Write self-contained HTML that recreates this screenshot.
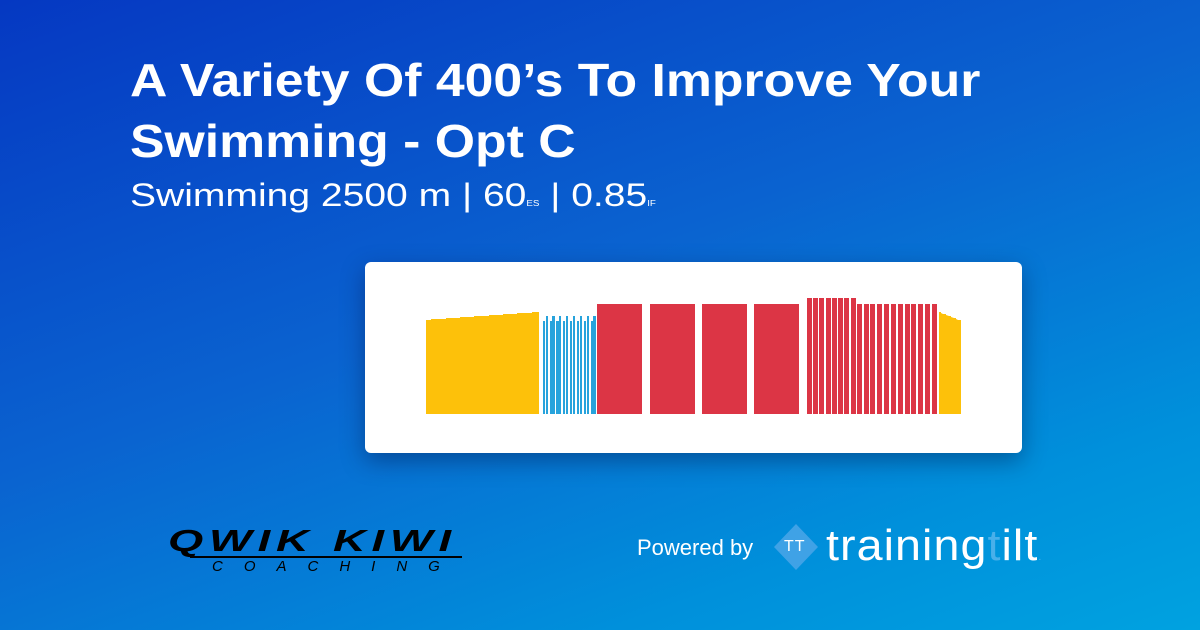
<!DOCTYPE html>
<html><head><style>
*{margin:0;padding:0}
body{width:1200px;height:630px;overflow:hidden;position:relative;font-family:"Liberation Sans",sans-serif;background:linear-gradient(160deg,#0538c2 0%,#0a63d0 45%,#0090db 80%,#00a2e0 100%);}
.t{position:absolute;left:130px;color:#fff;transform-origin:left top;white-space:nowrap}
</style></head><body>
<div class="t" style="top:50px;font-size:46px;font-weight:bold;line-height:61px;transform:scaleX(1.125)">A Variety Of 400’s To Improve Your<br>Swimming - Opt C</div>
<div class="t" style="top:175px;font-size:32px;line-height:40px;transform:scaleX(1.22)">Swimming 2500 m | 60<span style="font-size:8px">ES</span> | 0.85<span style="font-size:8px">IF</span></div>
<div style="position:absolute;left:365px;top:262px;width:657px;height:191px;background:#fff;border-radius:6px;box-shadow:0 8px 24px rgba(0,0,40,0.35)"></div>
<svg style="position:absolute;left:0;top:0" width="1200" height="630">
<polygon fill="#fdc10a" points="426,414 426,320 431,320 431,319 446,319 446,318 460,318 460,317 474,317 474,316 489,316 489,315 503,315 503,314 517,314 517,313 532,313 532,312 539,312 539,414"/>
<g fill="#27a3dc">
<rect x="543" y="321" width="2" height="93"/><rect x="546" y="316" width="2" height="98"/>
<rect x="550" y="321" width="2" height="93"/><rect x="552" y="316" width="3" height="98"/>
<rect x="556" y="321" width="3" height="93"/><rect x="559" y="316" width="2" height="98"/>
<rect x="563" y="321" width="2" height="93"/><rect x="566" y="316" width="2" height="98"/>
<rect x="570" y="321" width="2" height="93"/><rect x="573" y="316" width="2" height="98"/>
<rect x="577" y="321" width="2" height="93"/><rect x="580" y="316" width="2" height="98"/>
<rect x="584" y="321" width="2" height="93"/><rect x="587" y="316" width="2" height="98"/>
<rect x="591" y="321" width="2" height="93"/><rect x="593" y="316" width="3" height="98"/>
</g>
<g fill="#dc3545">
<rect x="597" y="304" width="45" height="110"/><rect x="650" y="304" width="45" height="110"/>
<rect x="702" y="304" width="45" height="110"/><rect x="754" y="304" width="45" height="110"/>
<rect x="807" y="298" width="5" height="116"/><rect x="813" y="298" width="5" height="116"/><rect x="819" y="298" width="5" height="116"/><rect x="826" y="298" width="5" height="116"/><rect x="832" y="298" width="5" height="116"/><rect x="838" y="298" width="5" height="116"/><rect x="844" y="298" width="5" height="116"/><rect x="851" y="298" width="5" height="116"/>
<rect x="857" y="304" width="5" height="110"/><rect x="864" y="304" width="5" height="110"/><rect x="870" y="304" width="5" height="110"/><rect x="877" y="304" width="5" height="110"/><rect x="884" y="304" width="5" height="110"/><rect x="891" y="304" width="5" height="110"/><rect x="898" y="304" width="5" height="110"/><rect x="905" y="304" width="5" height="110"/><rect x="911" y="304" width="5" height="110"/><rect x="918" y="304" width="5" height="110"/><rect x="925" y="304" width="5" height="110"/><rect x="932" y="304" width="5" height="110"/>
</g>
<polygon fill="#fdc10a" points="939,414 939,312 941,312 941,313 943,314 946,314 946,315 949,316 951,316 951,317 954,318 956,318 956,319 958,320 961,320 961,414"/>
<polygon fill="#3fa2e6" points="796,524 818,547 796,570 774,547"/>
</svg>
<div style="position:absolute;left:168px;top:524px;font-size:31px;font-weight:900;font-style:italic;color:#000;letter-spacing:4px;transform:scaleX(1.46);transform-origin:left;line-height:34px">QWIK KIWI</div>
<div style="position:absolute;left:190px;top:556px;width:272px;border-top:2px solid #000"></div>
<div style="position:absolute;left:212px;top:558px;font-size:15px;font-style:italic;color:#000;letter-spacing:21px;line-height:18px">COACHING</div>
<div style="position:absolute;left:637px;top:535px;font-size:22px;color:#fff">Powered by</div>
<div style="position:absolute;left:784px;top:538px;font-size:16px;color:#fff;letter-spacing:1px">TT</div>
<div style="position:absolute;left:826px;top:518px;font-size:44px;color:#fff;letter-spacing:1px;line-height:56px;transform:scaleX(1.06);transform-origin:left">training<span style="color:#49b0ea">t</span>ilt<span style="color:#49b0ea;font-size:10px">.</span></div>
</body></html>
